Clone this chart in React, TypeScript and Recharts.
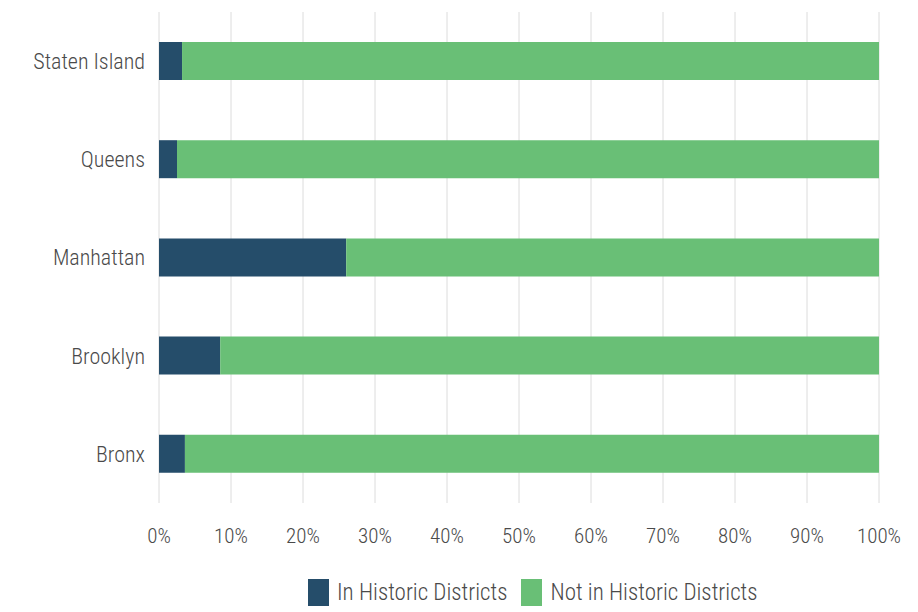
import React from "react";
import { BarChart, Bar, XAxis, YAxis, CartesianGrid, Legend } from "recharts";

const boroughs = ["Staten Island", "Queens", "Manhattan", "Brooklyn", "Bronx"];
const inHistoric = [3.2, 2.5, 26.0, 8.5, 3.6];
const notInHistoric = inHistoric.map((v) => 100 - v);
const xTicks = [0, 10, 20, 30, 40, 50, 60, 70, 80, 90, 100];

const seriesNames = ["In Historic Districts", "Not in Historic Districts"];
const colors = ["#254d6a", "#69bf76"];

const data = boroughs.map((b, i) => ({
  name: b,
  inHist: inHistoric[i],
  notHist: notInHistoric[i],
}));

const FONT = "'Roboto Condensed', 'Liberation Sans Narrow', 'DejaVu Sans Condensed', sans-serif";

const LegendContent = () => (
  <div style={{ display: "flex", justifyContent: "flex-start", alignItems: "center", paddingLeft: 308, fontFamily: FONT, color: "#4a4a4a", fontSize: 23, fontWeight: 300 }}>
    {seriesNames.map((n, i) => (
      <div key={n} style={{ display: "flex", alignItems: "center", marginRight: i === 0 ? 14 : 0 }}>
        <div style={{ width: 21, height: 27, background: colors[i], marginRight: 8 }} />
        <span>{n}</span>
      </div>
    ))}
  </div>
);

export default function App() {
  return (
    <div style={{ position: "absolute", left: 0, top: 0, width: 918, height: 612, background: "#fff" }}>
      <BarChart
        width={918}
        height={612}
        data={data}
        layout="vertical"
        margin={{ top: 12, right: 39, left: 0, bottom: 3 }}
        barSize={38}
      >
        <CartesianGrid horizontal={false} stroke="#dcdcdc" strokeWidth={1} />
        <XAxis
          type="number"
          domain={[0, 100]}
          ticks={xTicks}
          tickFormatter={(v) => `${v}%`}
          axisLine={false}
          tickLine={false}
          tickSize={0}
          tickMargin={25}
          height={76}
          interval={0}
          tick={{ fill: "#4a4a4a", fontSize: 21, fontFamily: FONT, fontWeight: 300 }}
        />
        <YAxis
          type="category"
          dataKey="name"
          width={159}
          axisLine={false}
          tickLine={false}
          tickSize={0}
          tickMargin={14}
          tick={{ fill: "#4a4a4a", fontSize: 22, fontFamily: FONT, fontWeight: 300 }}
        />
        <Legend verticalAlign="bottom" height={30} content={<LegendContent />} />
        <Bar dataKey="inHist" stackId="a" fill={colors[0]} name={seriesNames[0]} isAnimationActive={false} />
        <Bar dataKey="notHist" stackId="a" fill={colors[1]} name={seriesNames[1]} isAnimationActive={false} />
      </BarChart>
    </div>
  );
}
